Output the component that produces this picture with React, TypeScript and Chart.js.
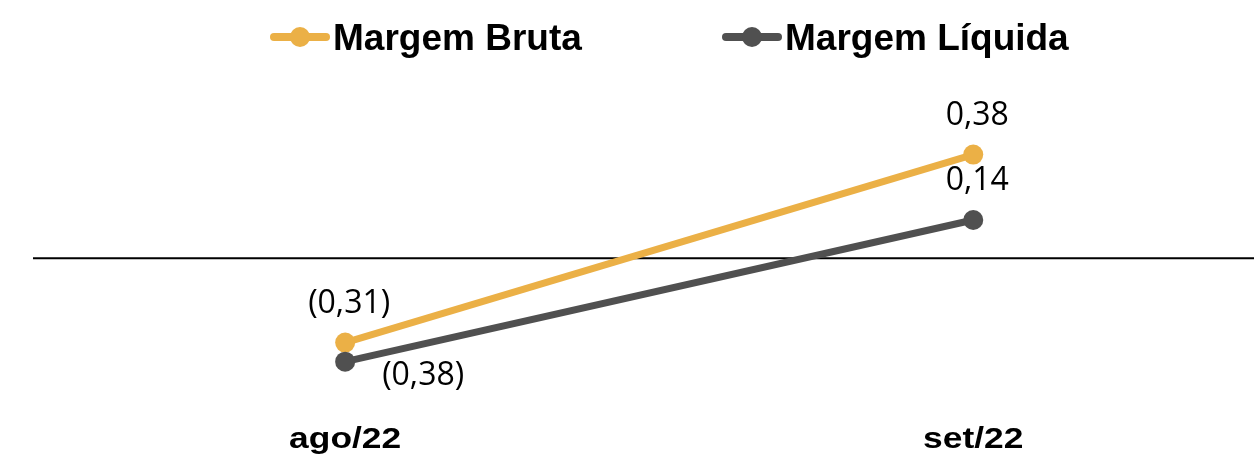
import React, { useEffect, useRef } from "react";
import { Chart, registerables } from "chart.js";

Chart.register(...registerables);

const categories = ["ago/22", "set/22"];
const seriesNames = ["Margem Bruta", "Margem Líquida"];
const margemBruta = [-0.31, 0.38];
const margemLiquida = [-0.38, 0.14];

const colorBruta = "#EBB046";
const colorLiquida = "#505050";

// label placement per series/point (style only)
const labelPlacement = [
  ["above", "above"],
  ["rightBelow", "above"],
];
const legendStarts = [270, 722];

function fmt(v: number) {
  const s = Math.abs(v).toFixed(2).replace(".", ",");
  return v < 0 ? `(${s})` : s;
}

const overlayPlugin = {
  id: "overlay",
  beforeDatasetsDraw(chart: any) {
    const { ctx, chartArea, scales } = chart;
    const y0 = scales.y.getPixelForValue(0);
    ctx.save();
    ctx.strokeStyle = "#000000";
    ctx.lineWidth = 2;
    ctx.beginPath();
    ctx.moveTo(chartArea.left, y0);
    ctx.lineTo(chartArea.right, y0);
    ctx.stroke();
    ctx.restore();
  },
  afterDatasetsDraw(chart: any) {
    const { ctx, scales } = chart;
    ctx.save();
    // data labels
    ctx.font = '32px "Open Sans"';
    ctx.fillStyle = "#000000";
    ctx.textAlign = "center";
    ctx.textBaseline = "middle";
    chart.data.datasets.forEach((ds: any, di: number) => {
      const meta = chart.getDatasetMeta(di);
      meta.data.forEach((pt: any, i: number) => {
        const v = ds.data[i].y;
        const place = labelPlacement[di][i];
        let x = pt.x;
        let y = pt.y;
        if (place === "above") {
          x += 4;
          y -= 39;
        } else {
          x += 78;
          y += 14;
        }
        ctx.fillText(fmt(v), x, y);
      });
    });
    // category labels (slightly widened like the reference)
    ctx.font = 'bold 29px "Liberation Sans", Arial, sans-serif';
    ctx.textBaseline = "alphabetic";
    categories.forEach((c, i) => {
      const x = scales.x.getPixelForValue(i);
      ctx.save();
      ctx.translate(x, 448);
      ctx.scale(1.22, 1);
      ctx.fillText(c, 0, 0);
      ctx.restore();
    });
    // legend
    const colors = [colorBruta, colorLiquida];
    seriesNames.forEach((name, i) => {
      const sx = legendStarts[i];
      const cy = 37;
      ctx.strokeStyle = colors[i];
      ctx.lineWidth = 8;
      ctx.lineCap = "round";
      ctx.beginPath();
      ctx.moveTo(sx + 4, cy);
      ctx.lineTo(sx + 56, cy);
      ctx.stroke();
      ctx.fillStyle = colors[i];
      ctx.beginPath();
      ctx.arc(sx + 30, cy, 10, 0, Math.PI * 2);
      ctx.fill();
      ctx.fillStyle = "#000000";
      ctx.textAlign = "left";
      ctx.textBaseline = "alphabetic";
      ctx.font = 'bold 37px "Liberation Sans", Arial, sans-serif';
      ctx.fillText(name, sx + 63, 50);
    });
    ctx.restore();
  },
};

export default function App() {
  const canvasRef = useRef<HTMLCanvasElement | null>(null);

  useEffect(() => {
    if (!canvasRef.current) return;
    const chart = new Chart(canvasRef.current, {
      type: "line",
      data: {
        datasets: [
          {
            label: seriesNames[0],
            data: margemBruta.map((v, i) => ({ x: i, y: v })),
            borderColor: colorBruta,
            backgroundColor: colorBruta,
            borderWidth: 7,
            pointRadius: 10,
            pointBorderWidth: 0,
            pointBackgroundColor: colorBruta,
            order: 2,
            clip: false,
          },
          {
            label: seriesNames[1],
            data: margemLiquida.map((v, i) => ({ x: i, y: v })),
            borderColor: colorLiquida,
            backgroundColor: colorLiquida,
            borderWidth: 7,
            pointRadius: 10,
            pointBorderWidth: 0,
            pointBackgroundColor: colorLiquida,
            order: 1,
            clip: false,
          },
        ],
      },
      options: {
        animation: false,
        responsive: false,
        maintainAspectRatio: false,
        devicePixelRatio: 1,
        layout: { autoPadding: false, padding: { left: 33, right: 0, top: 81, bottom: 49 } },
        scales: {
          x: { type: "linear", min: -0.497, max: 1.447, display: false },
          y: { type: "linear", min: -0.55, max: 0.65, display: false },
        },
        plugins: {
          legend: { display: false },
          tooltip: { enabled: false },
        },
      },
      plugins: [overlayPlugin],
    });
    return () => chart.destroy();
  }, []);

  return (
    <div style={{ position: "absolute", left: 0, top: 0, width: 1254, height: 457, background: "#ffffff" }}>
      <canvas ref={canvasRef} width={1254} height={457} style={{ display: "block", width: 1254, height: 457 }} />
    </div>
  );
}
